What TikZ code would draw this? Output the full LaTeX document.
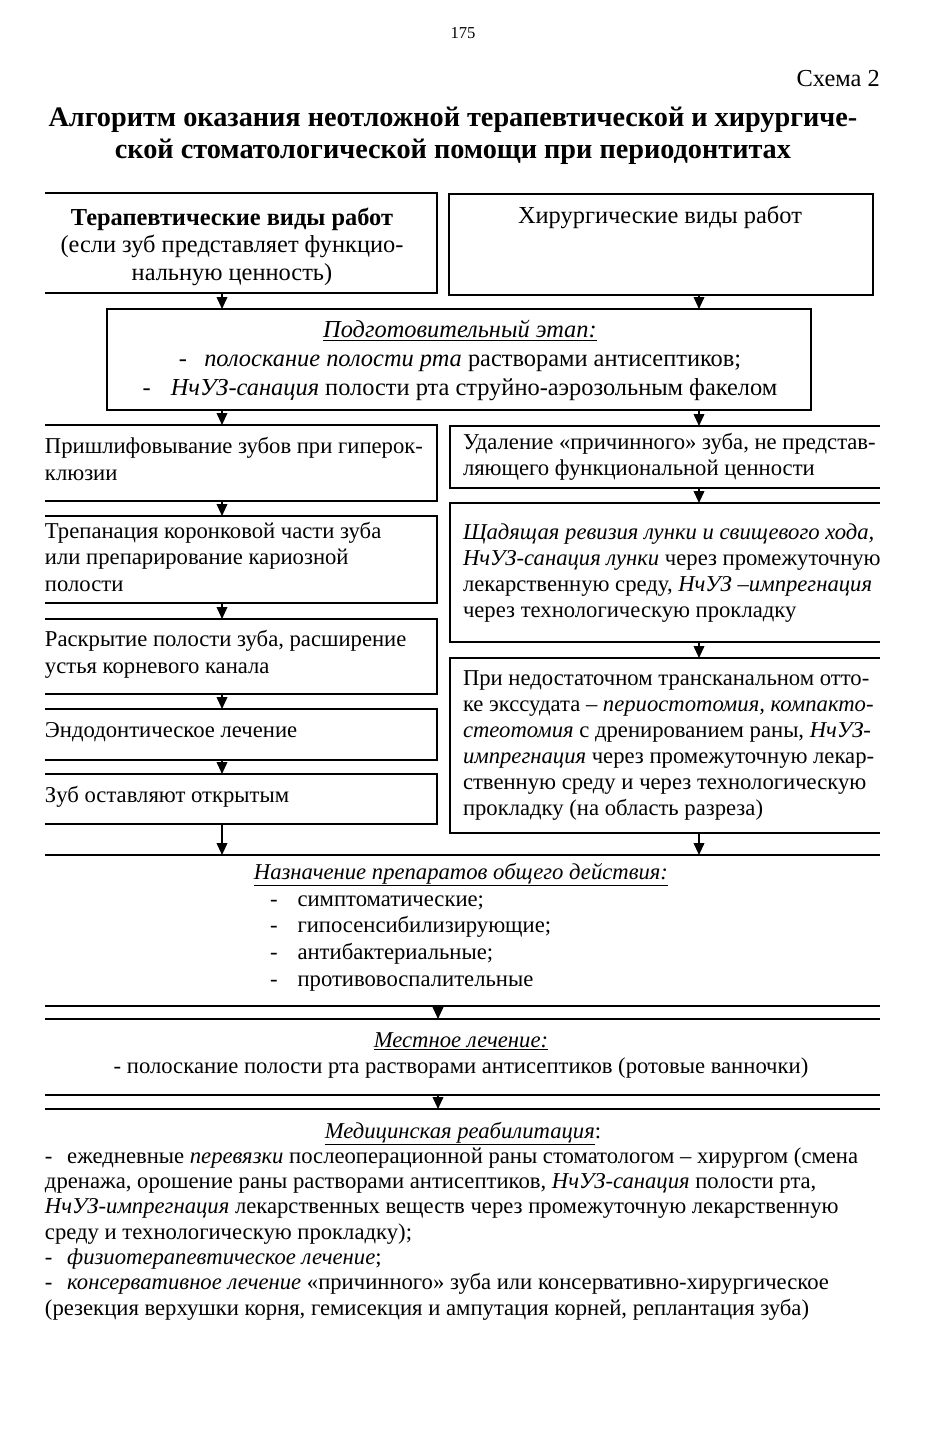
\documentclass[tikz,border=0pt]{standalone}
\usepackage{fontspec}
\setmainfont{Liberation Serif}
\usetikzlibrary{arrows.meta,fit}
\newcommand{\bfs}[1]{\fontsize{17}{#1}\selectfont}
\newcommand{\tfs}[1]{\fontsize{18.3}{#1}\selectfont}
\begin{document}
\begin{tikzpicture}[x=0.75pt,y=-0.75pt,
  lw/.style={line width=1.2pt},
  arr/.style={line width=1.2pt,-{Triangle[length=9pt,width=8pt]}},
  area/.style={inner sep=0pt,outer sep=0pt},
  txt/.style={inner sep=0pt,outer sep=0pt,align=left,anchor=base west},
  ctxt/.style={inner sep=0pt,outer sep=0pt,align=center,anchor=base}]
\fill[white] (0,0) rectangle (926,1443);
\useasboundingbox (0,0) rectangle (926,1443);

% header (multi-line nodes are placed by the baseline of their LAST line)
\node[ctxt,font=\fontsize{12.5}{14}\selectfont] (pg) at (463,38) {175};
\node[inner sep=0pt,anchor=base east,font=\fontsize{18.3}{20}\selectfont] (sch) at (880,86) {Схема 2};
\node[ctxt,font=\bfseries\fontsize{21.2}{23.3}\selectfont] (title) at (453,158)
  {Алгоритм оказания неотложной терапевтической и хирургиче-\\ской стоматологической помощи при периодонтитах};

% box areas
\node[area,fit={(45,193) (437,293)}] (T) {};
\node[area,fit={(449,194) (873,295)}] (S) {};
\node[area,fit={(107,309) (811,410)}] (P) {};
\node[area,fit={(45,425) (437,501)}] (L1) {};
\node[area,fit={(45,516) (437,603)}] (L2) {};
\node[area,fit={(45,619) (437,694)}] (L3) {};
\node[area,fit={(45,709) (437,760)}] (L4) {};
\node[area,fit={(45,774) (437,824)}] (L5) {};
\node[area,fit={(450,426) (880,488)}] (R1) {};
\node[area,fit={(450,503) (880,642)}] (R2) {};
\node[area,fit={(450,658) (880,833)}] (R3) {};
\node[area,fit={(45,855) (880,855)}] (H1) {};
\node[area,fit={(45,1006) (880,1006)}] (D1a) {};
\node[area,fit={(45,1019) (880,1019)}] (D1b) {};
\node[area,fit={(45,1095) (880,1095)}] (D2a) {};
\node[area,fit={(45,1109) (880,1109)}] (D2b) {};

% frames
\draw[lw] (T.north west) -- (T.north east) -- (T.south east) -- (T.south west);
\draw[lw] (S.north west) rectangle (S.south east);
\draw[lw] (P.north west) rectangle (P.south east);
\foreach \b in {L1,L2,L3,L4,L5}
  \draw[lw] (\b.north west) -- (\b.north east) -- (\b.south east) -- (\b.south west);
\foreach \b in {R1,R2,R3}
  \draw[lw] (\b.north east) -- (\b.north west) -- (\b.south west) -- (\b.south east);
\foreach \b in {H1,D1a,D1b,D2a,D2b}
  \draw[lw] (\b.west) -- (\b.east);

% arrow columns
\coordinate (cA) at (222,0);
\coordinate (cB) at (699,0);
\coordinate (cC) at (438,0);
\draw[arr] (T.south -| cA) -- (P.north -| cA);
\draw[arr] (S.south -| cB) -- (P.north -| cB);
\draw[arr] (P.south -| cA) -- (L1.north -| cA);
\draw[arr] (P.south -| cB) -- (R1.north -| cB);
\draw[arr] (L1.south -| cA) -- (L2.north -| cA);
\draw[arr] (L2.south -| cA) -- (L3.north -| cA);
\draw[arr] (L3.south -| cA) -- (L4.north -| cA);
\draw[arr] (L4.south -| cA) -- (L5.north -| cA);
\draw[arr] (L5.south -| cA) -- (H1.center -| cA);
\draw[arr] (R1.south -| cB) -- (R2.north -| cB);
\draw[arr] (R2.south -| cB) -- (R3.north -| cB);
\draw[arr] (R3.south -| cB) -- (H1.center -| cB);
\draw[arr] (D1a.center -| cC) -- (D1b.center -| cC);
\draw[arr] (D2a.center -| cC) -- (D2b.center -| cC);

% texts
\node[ctxt,font=\tfs{20.6}] (Tt) at (232,280)
  {\textbf{Терапевтические виды работ}\\(если зуб представляет функцио-\\нальную ценность)};
\node[ctxt,font=\tfs{20.6}] (St) at (660,223) {Хирургические виды работ};
\node[ctxt,font=\tfs{21.4}] (Pt) at (460,395)
  {\underline{\textit{Подготовительный этап:}}\\
   -\hspace{13pt}\textit{полоскание полости рта} растворами антисептиков;\\
   -\hspace{15pt}\textit{НчУЗ-санация} полости рта струйно-аэрозольным факелом};
\node[txt,font=\bfs{20.25}] (L1t) at (45,480) {Пришлифовывание зубов при гиперок-\\клюзии};
\node[txt,font=\bfs{19.8}] (L2t) at (45,591) {Трепанация коронковой части зуба\\или препарирование кариозной\\полости};
\node[txt,font=\bfs{19.8}] (L3t) at (45,673) {Раскрытие полости зуба, расширение\\устья корневого канала};
\node[txt,font=\bfs{19.8}] (L4t) at (45,737) {Эндодонтическое лечение};
\node[txt,font=\bfs{19.8}] (L5t) at (45,802) {Зуб оставляют открытым};
\node[txt,font=\bfs{19.5}] (R1t) at (463,475) {Удаление «причинного» зуба, не представ-\\ляющего функциональной ценности};
\node[txt,font=\bfs{19.5}] (R2t) at (463,617)
  {\textit{Щадящая ревизия лунки и свищевого хода,}\\
   \textit{НчУЗ-санация лунки} через промежуточную\\
   лекарственную среду, \textit{НчУЗ –импрегнация}\\
   через технологическую прокладку};
\node[txt,font=\bfs{19.5}] (R3t) at (463,815)
  {При недостаточном трансканальном отто-\\
   ке экссудата – \textit{периостотомия, компакто-}\\
   \textit{стеотомия} с дренированием раны, \textit{НчУЗ-}\\
   \textit{импрегнация} через промежуточную лекар-\\
   ственную среду и через технологическую\\
   прокладку (на область разреза)};

\node[ctxt,font=\bfs{20}] (Nt) at (461,879) {\underline{\textit{Назначение препаратов общего действия:}}};
\node[txt,font=\bfs{20}] (Nl) at (270,986)
  {-\hspace{15pt}симптоматические;\\
   -\hspace{15pt}гипосенсибилизирующие;\\
   -\hspace{15pt}антибактериальные;\\
   -\hspace{15pt}противовоспалительные};
\node[ctxt,font=\bfs{19.5}] (Mt) at (461,1073)
  {\underline{\textit{Местное лечение:}}\\- полоскание полости рта растворами антисептиков (ротовые ванночки)};
\node[ctxt,font=\bfs{19}] (Rt) at (463,1138) {\underline{\textit{Медицинская реабилитация}}:};
\node[txt,font=\bfs{19}] (Rp) at (45,1315)
  {-\hspace{11pt}ежедневные \textit{перевязки} послеоперационной раны стоматологом – хирургом (смена\\
   дренажа, орошение раны растворами антисептиков, \textit{НчУЗ-санация} полости рта,\\
   \textit{НчУЗ-импрегнация} лекарственных веществ через промежуточную лекарственную\\
   среду и технологическую прокладку);\\
   -\hspace{11pt}\textit{физиотерапевтическое лечение};\\
   -\hspace{11pt}\textit{консервативное лечение} «причинного» зуба или консервативно-хирургическое\\
   (резекция верхушки корня, гемисекция и ампутация корней, реплантация зуба)};
\end{tikzpicture}
\end{document}
